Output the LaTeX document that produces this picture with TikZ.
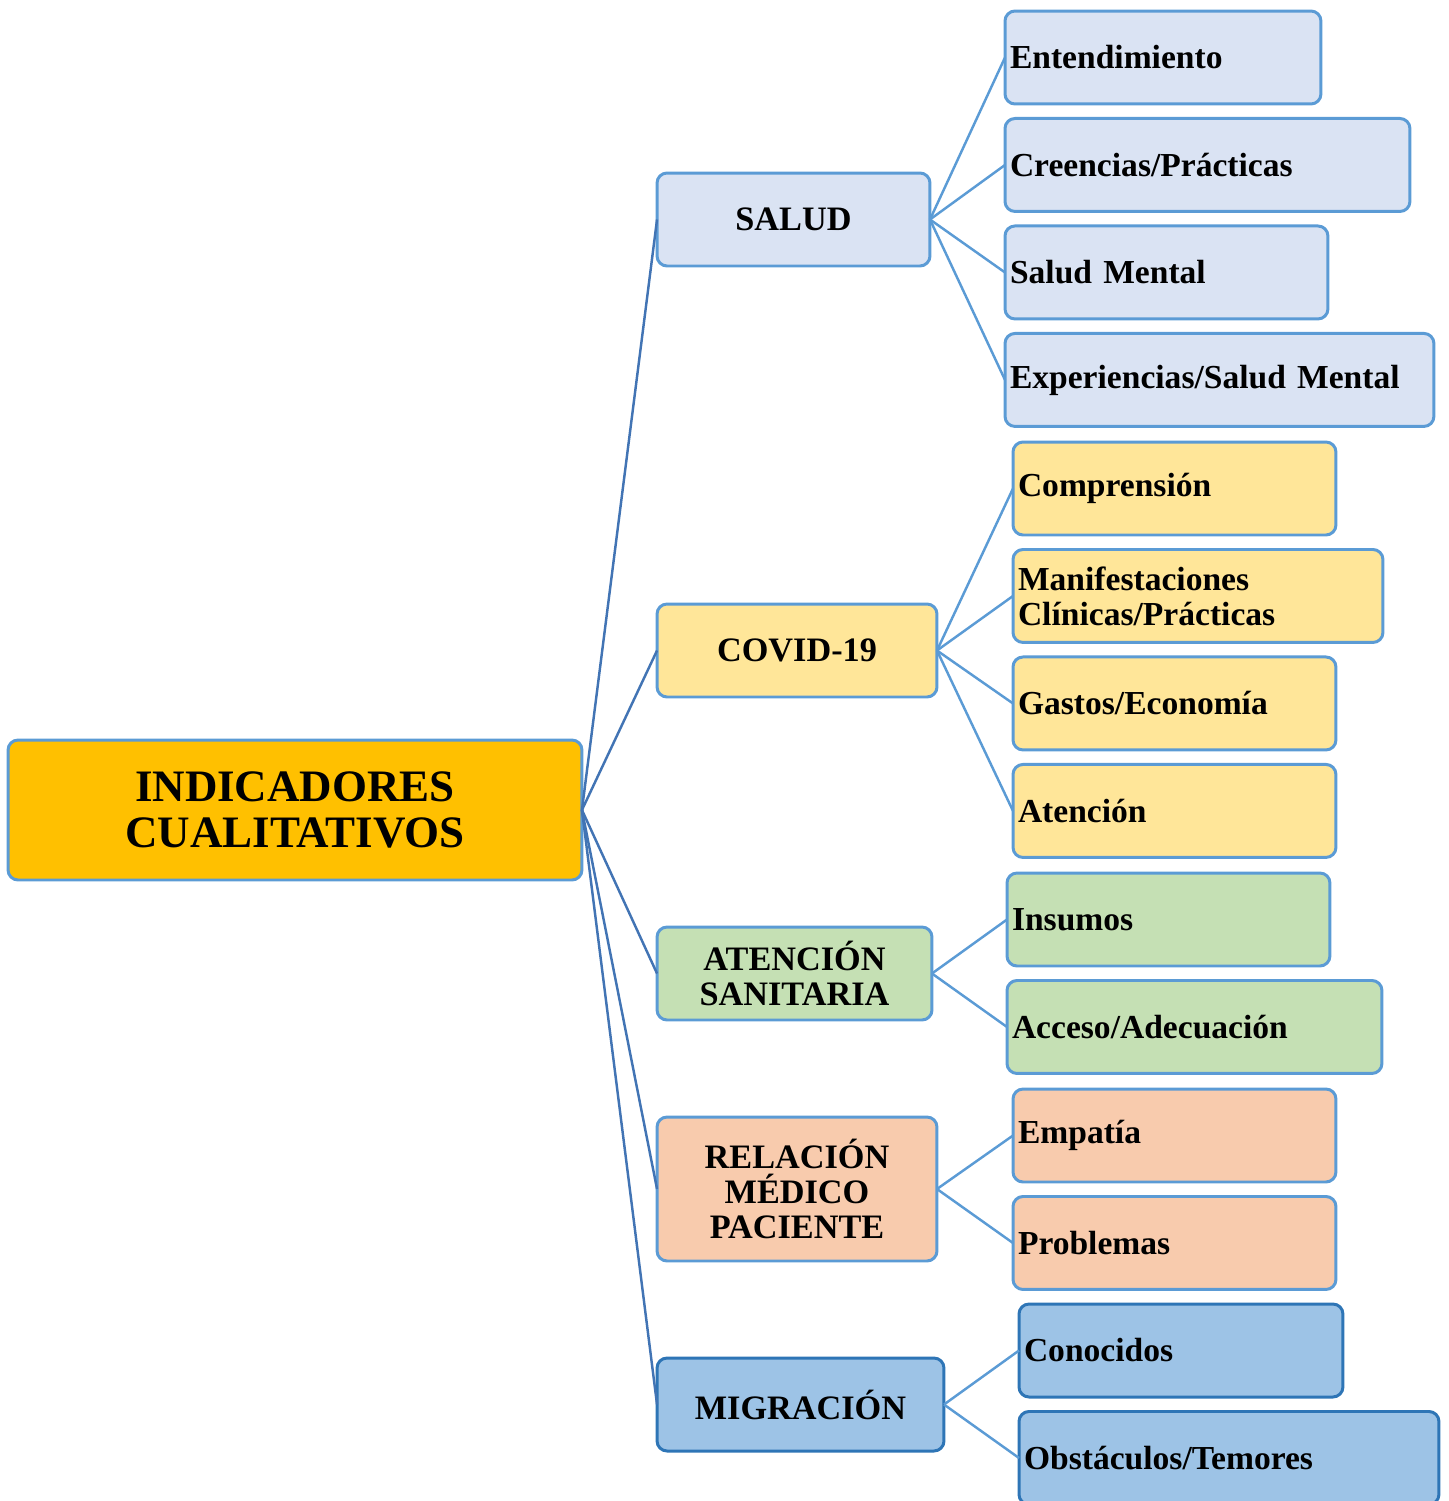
\documentclass[tikz,border=0pt]{standalone}
\usepackage{fontspec}
\setmainfont{Liberation Serif}
\usepackage{tikz}
\usetikzlibrary{positioning}

\definecolor{boxline}{HTML}{5B9BD5}
\definecolor{rootline}{HTML}{4274B4}
\definecolor{migline}{HTML}{2E75B6}
\definecolor{rootfill}{HTML}{FFC000}
\definecolor{saludfill}{HTML}{DAE3F3}
\definecolor{covidfill}{HTML}{FFE699}
\definecolor{atenfill}{HTML}{C5E0B4}
\definecolor{relfill}{HTML}{F8CBAD}
\definecolor{migfill}{HTML}{9DC3E6}

\begin{document}
\begin{tikzpicture}[x=0.02cm, y=-0.02cm,
	box/.style={draw=boxline, line width=1.7pt, rounded corners=0.2cm, outer sep=0pt,
		minimum height=1.86cm, align=center,
		font=\fontsize{19.5}{19.9}\selectfont\bfseries},
	leaf/.style={box, anchor=west, align=left, inner xsep=0.1cm,
		font=\fontsize{19.1}{19.9}\selectfont\bfseries},
	link/.style={draw=boxline, line width=1.4pt},
	rootlink/.style={draw=rootline, line width=1.4pt}]
	\useasboundingbox (0,0) rectangle (1449,1501);
	
	% root
	\node[box, fill=rootfill, minimum width=11.48cm, minimum height=2.8cm,
		font=\fontsize{25.6}{26.2}\selectfont\bfseries] (ind) at (295,810)
		{INDICADORES\\CUALITATIVOS};
	
	% first level
	\node[box, fill=saludfill, minimum width=5.46cm] (salud) at (793.5,219.5) {SALUD};
	\node[box, fill=covidfill, minimum width=5.6cm] (covid) at (797,650.5) {COVID-19};
	\node[box, fill=atenfill, minimum width=5.5cm] (aten) at (794.5,973.5) {ATENCIÓN\\SANITARIA};
	\node[box, fill=relfill, minimum width=5.6cm, minimum height=2.88cm] (rel) at (797,1189)
		{RELACIÓN\\MÉDICO\\PACIENTE};
	\node[box, draw=migline, fill=migfill, minimum width=5.74cm] (mig) at (800.5,1404.5) {MIGRACIÓN};
	
	\def\gap{0.29cm}
	
	% salud
	\node[leaf, fill=saludfill, text width=6.12cm] (s1) at (1005,57.5) {Entendimiento};
	\node[leaf, fill=saludfill, text width=7.9cm, below=\gap of s1.south west, anchor=north west] (s2) {Creencias/Prácticas};
	\node[leaf, fill=saludfill, text width=6.26cm, below=\gap of s2.south west, anchor=north west] (s3) {Salud Mental};
	\node[leaf, fill=saludfill, text width=8.38cm, below=\gap of s3.south west, anchor=north west] (s4) {Experiencias/Salud Mental};
	
	% covid
	\node[leaf, fill=covidfill, text width=6.26cm] (c1) at (1013,488.5) {Comprensión};
	\node[leaf, fill=covidfill, text width=7.2cm, below=\gap of c1.south west, anchor=north west] (c2) {Manifestaciones\\Clínicas/Prácticas};
	\node[leaf, fill=covidfill, text width=6.26cm, below=\gap of c2.south west, anchor=north west] (c3) {Gastos/Economía};
	\node[leaf, fill=covidfill, text width=6.26cm, below=\gap of c3.south west, anchor=north west] (c4) {Atención};
	
	% atencion sanitaria
	\node[leaf, fill=atenfill, text width=6.26cm] (a1) at (1007,919.5) {Insumos};
	\node[leaf, fill=atenfill, text width=7.3cm, below=\gap of a1.south west, anchor=north west] (a2) {Acceso/Adecuación};
	
	% relacion medico paciente
	\node[leaf, fill=relfill, text width=6.26cm] (r1) at (1013,1135.5) {Empatía};
	\node[leaf, fill=relfill, text width=6.26cm, below=\gap of r1.south west, anchor=north west] (r2) {Problemas};
	
	% migracion
	\node[leaf, draw=migline, fill=migfill, text width=6.28cm] (m1) at (1019,1350.5) {Conocidos};
	\node[leaf, draw=migline, fill=migfill, text width=8.2cm, below=\gap of m1.south west, anchor=north west] (m2) {Obstáculos/Temores};
	
	\foreach \n in {salud,covid,aten,rel,mig}
		\draw[rootlink] (ind.east) -- (\n.west);
	\foreach \n in {s1,s2,s3,s4}
		\draw[link] (salud.east) -- (\n.west);
	\foreach \n in {c1,c2,c3,c4}
		\draw[link] (covid.east) -- (\n.west);
	\foreach \n in {a1,a2}
		\draw[link] (aten.east) -- (\n.west);
	\foreach \n in {r1,r2}
		\draw[link] (rel.east) -- (\n.west);
	\foreach \n in {m1,m2}
		\draw[link] (mig.east) -- (\n.west);
\end{tikzpicture}
\end{document}
